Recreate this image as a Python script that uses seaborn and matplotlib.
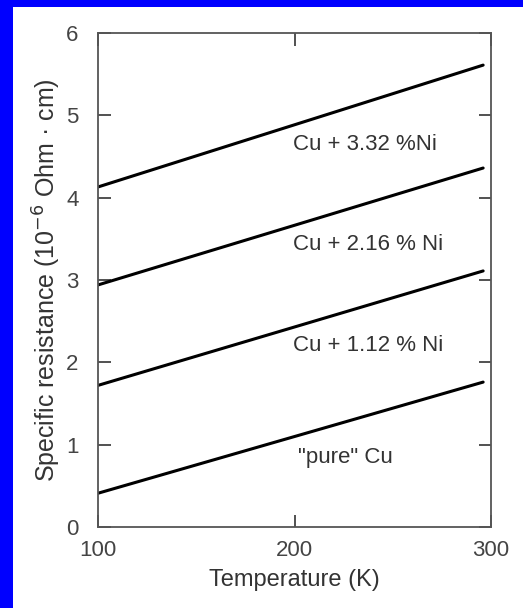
import pandas as pd
import matplotlib.pyplot as plt
import matplotlib.patches as mpatches
import seaborn as sns

# resistivity lines (10^-6 Ohm cm)
temps = [100, 296]
pure_cu = [0.41, 1.76]
ni_112 = [1.72, 3.11]
ni_216 = [2.94, 4.36]
ni_332 = [4.13, 5.61]

series_names = ['"pure" Cu', "Cu + 1.12 % Ni", "Cu + 2.16 % Ni", "Cu + 3.32 %Ni"]
label_x = [202, 199, 199, 199]
label_y = [0.85, 2.21, 3.43, 4.64]

df = pd.DataFrame({
    "T": temps * 4,
    "rho": pure_cu + ni_112 + ni_216 + ni_332,
    "alloy": [n for n in series_names for _ in temps],
})

sns.set_style("ticks")
plt.rcParams["font.family"] = ["Liberation Sans", "DejaVu Sans"]

fig = plt.figure(figsize=(5.23, 6.08), dpi=100)
fig.patch.set_facecolor("#0000ff")
# white sheet over the blue frame
sheet = mpatches.Rectangle((13 / 523, 0), 1, 1 - 7 / 608,
                           transform=fig.transFigure,
                           facecolor="white", edgecolor="none", zorder=-5)
fig.add_artist(sheet)

ax = fig.add_axes([98 / 523, 1 - 527 / 608, 393 / 523, 494 / 608])
ax.set_facecolor("white")

sns.lineplot(data=df, x="T", y="rho", hue="alloy",
             palette=["black"] * 4, linewidth=2.2, legend=False, ax=ax)

for name, x, y in zip(series_names, label_x, label_y):
    ax.text(x, y, name, fontsize=16, color="#333333", va="center", ha="left")

ax.set_xlim(100, 300)
ax.set_ylim(0, 6)
ax.set_xticks([100, 200, 300])
ax.set_yticks([0, 1, 2, 3, 4, 5, 6])
ax.tick_params(direction="in", length=9, width=1.2, colors="#333333",
               labelsize=16, labelcolor="#444444", pad=9,
               top=True, right=True)
ax.tick_params(axis="y", pad=14)

for s in ax.spines.values():
    s.set_visible(True)
    s.set_color("#555555")
    s.set_linewidth(1.3)

ax.set_xlabel("Temperature (K)", fontsize=17, color="#333333", labelpad=6)
ax.set_ylabel("Specific resistance (10$^{-6}$ Ohm · cm)", fontsize=18,
              color="#333333", labelpad=2)

fig.savefig("out.png", dpi=100, facecolor=fig.get_facecolor())
